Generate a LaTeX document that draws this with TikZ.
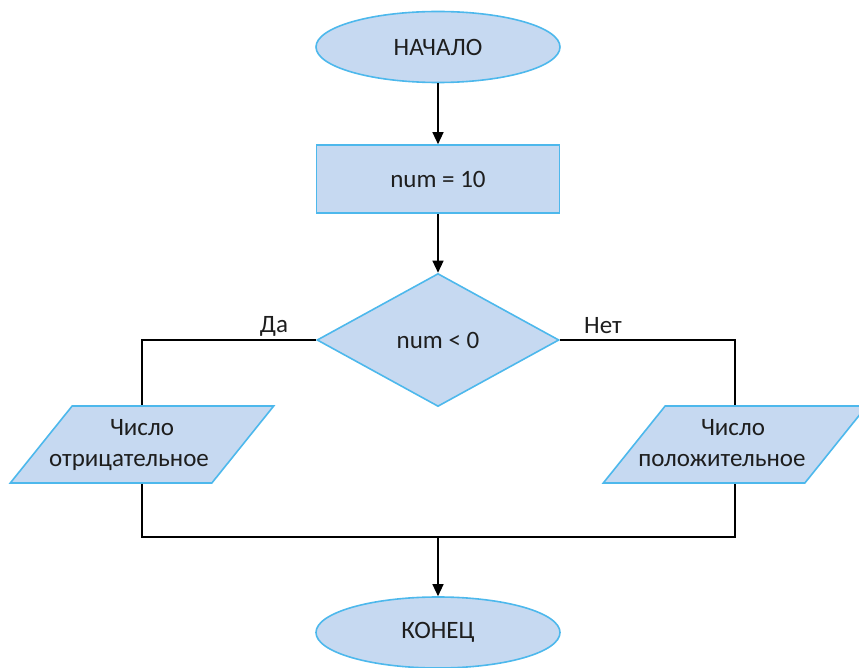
\documentclass[tikz,border=0pt]{standalone}
\usepackage{fontspec}
\setmainfont{Carlito}
\usetikzlibrary{shapes.geometric,arrows.meta}
\definecolor{boxfill}{HTML}{C6D9F1}
\definecolor{boxline}{HTML}{4DB8EC}
\definecolor{ink}{HTML}{1E1E1E}
% a centred line of fixed width, so the shape size does not follow the text;
% the optional argument pushes the line to the left
\newcommand{\fixline}[2][0pt]{\makebox[120pt][c]{\strut #2\hspace{#1}}}
\begin{document}
\begin{tikzpicture}[x=1pt,y=-1pt,
  blk/.style={draw=boxline,fill=boxfill,line width=1.6pt,inner sep=0pt,
    text=ink,font=\fontsize{25}{31}\selectfont,align=center},
  term/.style={blk,ellipse,minimum width=244pt,minimum height=71pt},
  proc/.style={blk,rectangle,minimum width=243pt,minimum height=68pt},
  cond/.style={blk,diamond,minimum width=242pt,minimum height=133pt,shape aspect=1.82},
  io/.style={blk,trapezium,trapezium stretches=true,trapezium left angle=49.4,
    trapezium right angle=130.6,minimum width=264pt,minimum height=77pt},
  link/.style={draw=black,line width=1.3pt},
  flow/.style={link,-{Triangle[length=12pt,width=11pt]}},
  lbl/.style={text=ink,font=\fontsize{25}{31}\selectfont,inner sep=0pt}]
\useasboundingbox (0,0) rectangle (859,668);

\node[term] (start) at (438,47) {НАЧАЛО};
\node[proc] (init) at (438,179) {num = 10};
\node[cond] (test) at (438,340) {num < 0};
\node[io] (neg) at (142,444.5) {\fixline{Число}\\\fixline[26pt]{отрицательное}};
\node[io] (pos) at (735,444.5) {\fixline[4pt]{Число}\\\fixline[26pt]{положительное}};
\node[term] (stop) at (438,632.5) {КОНЕЦ};
\coordinate (join) at (438,537);

\draw[flow] (start) -- (init);
\draw[flow] (init) -- (test);
\draw[link] (test.west) -| (neg.north);
\draw[link] (test.east) -| (pos.north);
\draw[link] (neg.south) |- (join) -| (pos.south);
\draw[flow] (join) -- (stop);

\node[lbl] (yes) at (274,326) {Да};
\node[lbl] (no) at (603,326) {Нет};
\end{tikzpicture}
\end{document}
